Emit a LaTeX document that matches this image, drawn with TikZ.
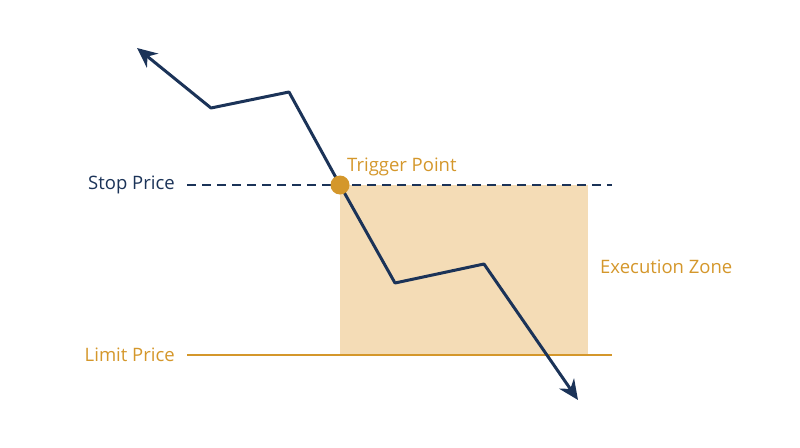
\documentclass[tikz,border=0pt]{standalone}
\usepackage{fontspec}
\setmainfont{Open Sans}
\usetikzlibrary{
    arrows.meta,
    calc,
    positioning
}
\definecolor{navy}{HTML}{1B3358}
\definecolor{gold}{HTML}{D4972B}
\definecolor{zone}{HTML}{F4DCB6}
\tikzset{
    every picture/.style = {
        > = Stealth,
        line join = round
    },
    price/.style = {
        line width = 3pt,
        navy
    },
    level/.style = {
        line width = 2.5pt
    },
    label text/.style = {
        inner sep = 1pt,
        font = \fontsize{18.5}{21}\selectfont
    }
}

\begin{document}
\begin{tikzpicture}[
                        x = 1pt,
                        y = -1pt
                    ]
                        \useasboundingbox (0,0) rectangle (800,447);

                        % execution zone
                        \fill[zone] (340,185) rectangle (588,355);

                        % price levels
                        \coordinate (stopL) at (187,185);
                        \coordinate (stopR) at (612,185);
                        \coordinate (limL) at (187,355);
                        \coordinate (limR) at (612,355);
                        \draw[level, navy, dash pattern = on 9pt off 6pt] (stopL) -- (stopR);
                        \draw[level, gold] (limL) -- (limR);

                        \node[label text, navy, anchor = east] (stop) at (176,185) {Stop Price};
                        \node[label text, gold, anchor = east] (limit) at (176,355) {Limit Price};

                        % price path
                        \coordinate (start) at (137,48);
                        \coordinate (p1) at (211,108);
                        \coordinate (p2) at (289,92);
                        \coordinate (trig) at (340,185);
                        \coordinate (p3) at (395,283);
                        \coordinate (p4) at (484,264);
                        \coordinate (end) at (578,400);

                        \draw[price, {Stealth[length = 20pt, width = 18pt]}-{Stealth[length = 20pt, width = 18pt]}]
                            (start) -- (p1) -- (p2) -- (trig) -- (p3) -- (p4) -- (end);

                        \fill[gold] (trig) circle (9.5);

                        \node[label text, gold, anchor = west] (trigger) at (346,167) {Trigger Point};
                        \node[label text, gold, anchor = west] (zonelabel) at (599,267) {Execution Zone};
                    \end{tikzpicture}
\end{document}
